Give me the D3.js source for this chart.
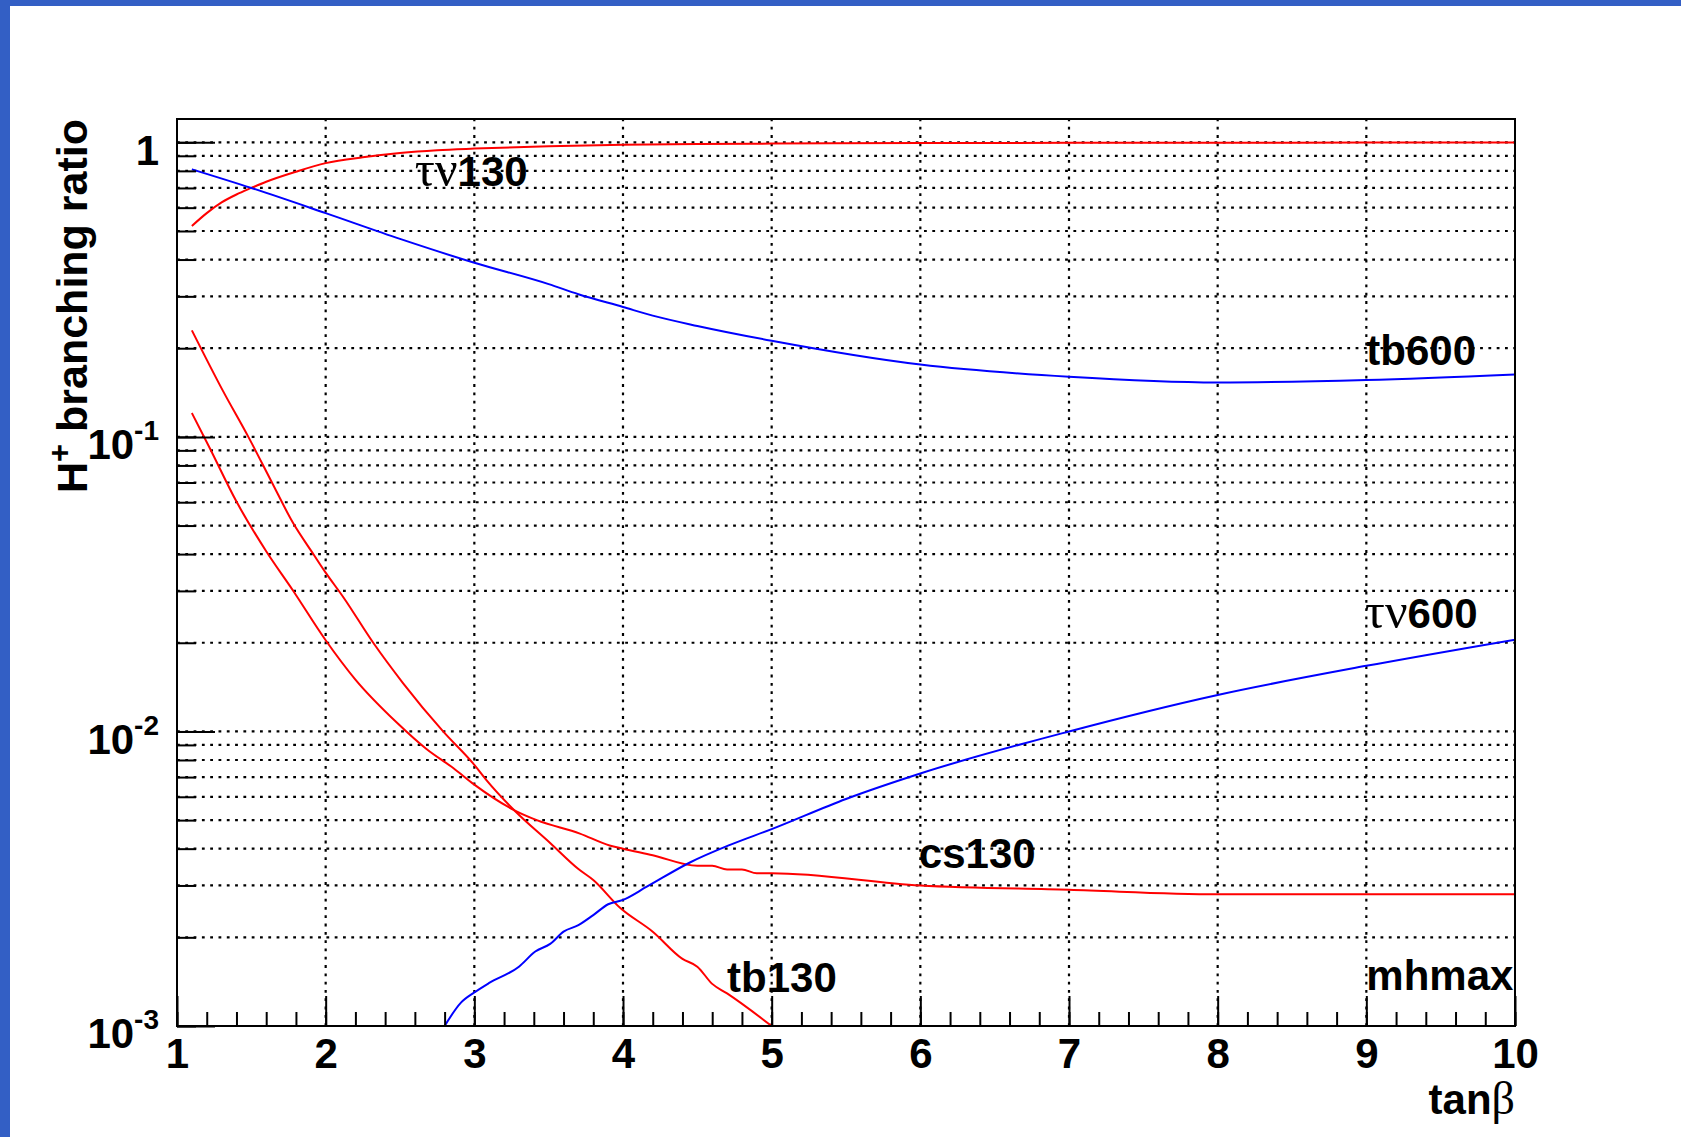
<!DOCTYPE html>
<html lang="en">
<head>
<meta charset="utf-8">
<script src="https://d3js.org/d3.v7.min.js"></script>
<style>
  body { margin: 0; background: #fff; }
  svg text { font-family: "Liberation Sans", Arial, sans-serif; font-weight: bold; fill: #000; }
</style>
</head>
<body>
<script>
// H+ branching ratios vs tan(beta)
const tauNu130X = [1.1, 1.2, 1.3, 1.4, 1.5, 1.6, 1.8, 2.0, 2.25, 2.5, 2.75, 3.0, 3.5, 4.0, 4.5, 5.0, 6, 7, 8, 9, 10];
const tauNu130Y = [0.52, 0.575, 0.625, 0.665, 0.70, 0.735, 0.795, 0.85, 0.89, 0.92, 0.94, 0.952, 0.97, 0.981, 0.987, 0.99, 0.994, 0.996, 0.997, 0.998, 0.998];

const tb600X = [1.1, 1.5, 2.0, 2.5, 3.0, 3.5, 3.7, 4.0, 4.2, 4.5, 5.0, 6, 7, 8, 9, 10];
const tb600Y = [0.81, 0.70, 0.575, 0.47, 0.39, 0.33, 0.305, 0.276, 0.258, 0.238, 0.212, 0.176, 0.16, 0.153, 0.156, 0.163];

const tauNu600X = [2.8, 2.91, 3.0, 3.1, 3.3, 3.41, 3.51, 3.6, 3.7, 3.8, 3.9, 4.0, 4.16, 4.45, 4.72, 5.0, 5.5, 6, 7, 8, 9, 10];
const tauNu600Y = [0.001, 0.0012, 0.0013, 0.0014, 0.00159, 0.00179, 0.0019, 0.00209, 0.0022, 0.00238, 0.00259, 0.00268, 0.00297, 0.00359, 0.00412, 0.00466, 0.0059, 0.0072, 0.0100, 0.0133, 0.0167, 0.0205];

const cs130X = [1.1, 1.22, 1.4, 1.6, 1.78, 2.0, 2.2, 2.48, 2.68, 2.86, 3.0, 3.27, 3.42, 3.71, 3.91, 4.0, 4.2, 4.5, 4.6, 4.7, 4.8, 4.9, 5.0, 6, 7, 8, 9, 10];
const cs130Y = [0.1205, 0.0917, 0.0603, 0.0409, 0.0301, 0.0204, 0.0150, 0.0107, 0.0087, 0.0075, 0.0066, 0.0054, 0.0050, 0.0045, 0.0041, 0.0040, 0.0038, 0.0035, 0.0035, 0.0034, 0.0034, 0.0033, 0.0033, 0.0030, 0.0029, 0.0028, 0.0028, 0.0028];

const tb130X = [1.1, 1.31, 1.48, 1.63, 1.78, 1.92, 2.0, 2.12, 2.32, 2.52, 2.79, 3.0, 3.08, 3.27, 3.51, 3.7, 3.8, 3.98, 4.2, 4.4, 4.5, 4.6, 4.7, 5.0];
const tb130Y = [0.23, 0.143, 0.1, 0.0714, 0.0511, 0.0398, 0.0346, 0.0285, 0.020, 0.0146, 0.010, 0.0077, 0.00685, 0.00539, 0.00418, 0.00341, 0.00313, 0.00252, 0.00209, 0.00169, 0.00159, 0.00139, 0.00129, 0.001];

const xTickValues = [1, 2, 3, 4, 5, 6, 7, 8, 9, 10];
const yTickValues = [1, 0.1, 0.01, 0.001];
const yTickExp = ["", "-1", "-2", "-3"];

const series = [
  {x: tauNu130X, y: tauNu130Y, color: "#ff0000"},
  {x: tb130X, y: tb130Y, color: "#ff0000"},
  {x: cs130X, y: cs130Y, color: "#ff0000"},
  {x: tb600X, y: tb600Y, color: "#0000ff"},
  {x: tauNu600X, y: tauNu600Y, color: "#0000ff"}
];

// curve labels: greek part (serif) + rest (bold), anchored in data coords
const labels = [
  {greek: "τν", text: "130", x: 2.6, y: 0.711},
  {greek: "", text: "tb600", x: 9.0, y: 0.175},
  {greek: "τν", text: "600", x: 8.99, y: 0.0224},
  {greek: "", text: "cs130", x: 5.99, y: 0.00344},
  {greek: "", text: "tb130", x: 4.7, y: 0.0013},
  {greek: "", text: "mhmax", x: 9.0, y: 0.00132}
];

const W = 1681, H = 1137;
const margin = {top: 119, right: 166, bottom: 111, left: 177};
const width = W - margin.left - margin.right;
const height = H - margin.top - margin.bottom;

const svg = d3.select("body").append("svg")
    .attr("width", W)
    .attr("height", H);

svg.append("rect").attr("width", W).attr("height", H).attr("fill", "#fff");

const g = svg.append("g")
    .attr("transform", "translate(" + margin.left + "," + margin.top + ")");

const x = d3.scaleLinear().domain([1, 10]).range([0, width]);
const y = d3.scaleLog().domain([0.001, 1.2]).range([height, 0]);

// dotted grid
const grid = g.append("g")
    .attr("stroke", "#000")
    .attr("stroke-width", 2.2)
    .attr("stroke-dasharray", "2.8,5.5");
grid.selectAll(".vg")
  .data(xTickValues.slice(1, -1))
  .enter().append("line")
    .attr("x1", d => x(d)).attr("x2", d => x(d))
    .attr("y1", height).attr("y2", 0);
grid.selectAll(".hg")
  .data(y.ticks().filter(d => d > 0.001))
  .enter().append("line")
    .attr("x1", 0).attr("x2", width)
    .attr("y1", d => y(d)).attr("y2", d => y(d));

// curves
g.append("clipPath").attr("id", "clip")
  .append("rect").attr("width", width).attr("height", height);

const line = d3.line()
    .x(d => x(d[0]))
    .y(d => y(d[1]))
    .curve(d3.curveMonotoneX);

g.append("g").attr("clip-path", "url(#clip)")
  .selectAll("path")
  .data(series)
  .enter().append("path")
    .attr("d", s => line(d3.zip(s.x, s.y)))
    .attr("fill", "none")
    .attr("stroke", s => s.color)
    .attr("stroke-width", 2);

// frame
g.append("rect")
    .attr("width", width).attr("height", height)
    .attr("fill", "none").attr("stroke", "#000").attr("stroke-width", 2);

// x axis
const xMinor = g.append("g")
    .attr("transform", "translate(0," + height + ")")
    .call(d3.axisBottom(x).tickValues(x.ticks(45)).tickSize(-14).tickFormat(""));
xMinor.select(".domain").remove();

const xAxis = g.append("g")
    .attr("transform", "translate(0," + height + ")")
    .call(d3.axisBottom(x).tickValues(xTickValues).tickSize(-30).tickPadding(12).tickFormat(d3.format("d")));
xAxis.select(".domain").remove();
xAxis.selectAll("text").style("font-size", "42px");

// y axis
const yMinor = g.append("g")
    .call(d3.axisLeft(y).tickValues(y.ticks()).tickSize(-19).tickFormat(""));
yMinor.select(".domain").remove();

const yAxis = g.append("g")
    .call(d3.axisLeft(y).tickValues(yTickValues).tickSize(-38).tickPadding(18).tickFormat(""));
yAxis.select(".domain").remove();
yAxis.selectAll(".tick text").each(function(d, i) {
  const t = d3.select(this).attr("dy", "0.52em").style("font-size", "42px");
  if (yTickExp[i] === "") {
    t.append("tspan").text("1");
  } else {
    t.append("tspan").text("10");
    t.append("tspan").attr("dy", -19).style("font-size", "28px").text(yTickExp[i]);
  }
});

g.selectAll(".tick line").attr("stroke", "#000").attr("stroke-width", 2);

// axis titles
const xTitle = g.append("text")
    .attr("x", width).attr("y", height + 88)
    .attr("text-anchor", "end")
    .style("font-size", "42px");
xTitle.append("tspan").text("tan");
xTitle.append("tspan")
    .style("font-family", "'Liberation Serif', serif")
    .style("font-weight", "normal")
    .style("font-size", "46px")
    .text("β");

const yTitle = svg.append("text")
    .attr("transform", "translate(87," + margin.top + ") rotate(-90)")
    .attr("text-anchor", "end")
    .style("font-size", "43px");
yTitle.append("tspan").text("H");
yTitle.append("tspan").attr("dy", -17).style("font-size", "31px").text("+");
yTitle.append("tspan").attr("dy", 17).text(" branching ratio");

// curve labels
labels.forEach(function(l) {
  const t = g.append("text")
      .attr("x", x(l.x)).attr("y", y(l.y))
      .style("font-size", "42px");
  if (l.greek) {
    t.append("tspan")
        .style("font-family", "'Liberation Serif', serif")
        .style("font-weight", "normal")
        .style("font-size", "50px")
        .text(l.greek);
  }
  t.append("tspan").text(l.text);
});

// blue page border
svg.append("rect").attr("x", 0).attr("y", 0).attr("width", W).attr("height", 6).attr("fill", "#335fc5");
svg.append("rect").attr("x", 0).attr("y", 0).attr("width", 10).attr("height", H).attr("fill", "#335fc5");
</script>
</body>
</html>
